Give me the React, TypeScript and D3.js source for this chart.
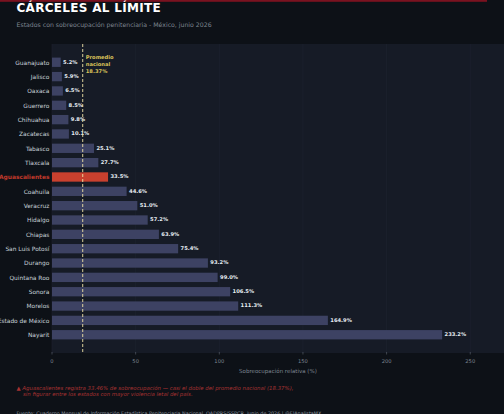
import React from 'react';
import * as d3 from 'd3';

// Values
const states = [
  'Guanajuato', 'Jalisco', 'Oaxaca', 'Guerrero', 'Chihuahua', 'Zacatecas', 'Tabasco',
  'Tlaxcala', 'Aguascalientes', 'Coahuila', 'Veracruz', 'Hidalgo', 'Chiapas',
  'San Luis Potosí', 'Durango', 'Quintana Roo', 'Sonora', 'Morelos', 'Estado de México', 'Nayarit',
];
const overcrowding = [5.2, 5.9, 6.5, 8.5, 9.8, 10.1, 25.1, 27.7, 33.5, 44.6, 51.0, 57.2, 63.9, 75.4, 93.2, 99.0, 106.5, 111.3, 164.9, 233.2];
const xTicks = [0, 50, 100, 150, 200, 250];
const nationalAverage = 18.37;
const highlighted = 'Aguascalientes';

const FONT = '"DejaVu Sans", sans-serif';
const WIDTH = 504;
const HEIGHT = 414;
const plot = { left: 52, right: 504, top: 44, bottom: 353 };

export default function App() {
  const x = d3.scaleLinear().domain([0, 270]).range([plot.left, plot.left + 270 * 1.673]);
  const y = d3.scaleBand().domain(states).range([55.1, 341.9]).paddingInner(0.35).paddingOuter(0.175);

  return (
    <svg
      width={WIDTH}
      height={HEIGHT}
      viewBox={`0 0 ${WIDTH} ${HEIGHT}`}
      style={{ position: 'fixed', left: 0, top: 0, display: 'block', willChange: 'opacity' }}
      fontFamily={FONT}
    >
      <rect width={WIDTH} height={HEIGHT} fill="#0d1117" />
      <rect x={0} y={0} width={487} height={1.8} fill="#7a1220" />

      <text x={16.5} y={12.3} fontSize={12} fontWeight={700} fill="#ffffff" letterSpacing={0.3}>CÁRCELES AL LÍMITE</text>
      <text x={16.5} y={27} fontSize={6.2} fill="#7d8590">Estados con sobreocupación penitenciaria - México, junio 2026</text>

      <rect x={plot.left} y={plot.top} width={plot.right - plot.left} height={plot.bottom - plot.top} fill="#161b26" />

      {xTicks.map((t) => (
        <g key={t}>
          <line x1={x(t)} x2={x(t)} y1={plot.top} y2={plot.bottom} stroke="#1f2430" strokeWidth={0.6} />
          <line x1={x(t)} x2={x(t)} y1={plot.bottom - 1} y2={plot.bottom + 1.5} stroke="#6e7681" strokeWidth={0.5} />
          <text x={x(t)} y={plot.bottom + 10} fontSize={5.2} textAnchor="middle" fill="#7d8590">{t}</text>
        </g>
      ))}

      {states.map((s, i) => {
        const isHit = s === highlighted;
        const barY = y(s) as number;
        const cy = barY + y.bandwidth() / 2;
        return (
          <g key={s}>
            <rect x={x(0)} y={barY} width={x(overcrowding[i]) - x(0)} height={y.bandwidth()} fill={isHit ? '#c9402e' : '#3d4263'} />
            <text x={x(0) - 2.6} y={cy + 0.3} dy="0.35em" fontSize={5.9} fontWeight={isHit ? 700 : 400} textAnchor="end" fill={isHit ? '#c0392b' : '#c9d1d9'}>{s}</text>
            <text x={x(overcrowding[i]) + 2.4} y={cy - 0.4} dy="0.35em" fontSize={5.2} fontWeight={700} fill="#e6edf3">{overcrowding[i].toFixed(1)}%</text>
          </g>
        );
      })}

      <line x1={x(nationalAverage)} x2={x(nationalAverage)} y1={plot.top} y2={plot.bottom} stroke="#f2e3a6" strokeWidth={0.9} strokeDasharray="3 2" />
      <text fontSize={5.2} fontWeight={700} fill="#d9c25a">
        <tspan x={x(nationalAverage) + 3} y={59.3}>Promedio</tspan>
        <tspan x={x(nationalAverage) + 3} y={66}>nacional</tspan>
        <tspan x={x(nationalAverage) + 3} y={72.7}>18.37%</tspan>
      </text>

      <text x={(plot.left + plot.right) / 2} y={372.5} fontSize={5.5} textAnchor="middle" fill="#7d8590">Sobreocupación relativa (%)</text>

      <text fontSize={5.4} fontStyle="italic" fill="#a83232">
        <tspan x={16.5} y={389.5}>▲  Aguascalientes registra 33.46% de sobreocupación — casi el doble del promedio nacional (18.37%),</tspan>
        <tspan x={23} y={395.8}>sin figurar entre los estados con mayor violencia letal del país.</tspan>
      </text>
      <text x={16.5} y={415} fontSize={4.87} fill="#8b949e">Fuente: Cuaderno Mensual de Información Estadística Penitenciaria Nacional, OADPRS/SSPCR, junio de 2026  |  @ElAnalistaMX</text>
    </svg>
  );
}
